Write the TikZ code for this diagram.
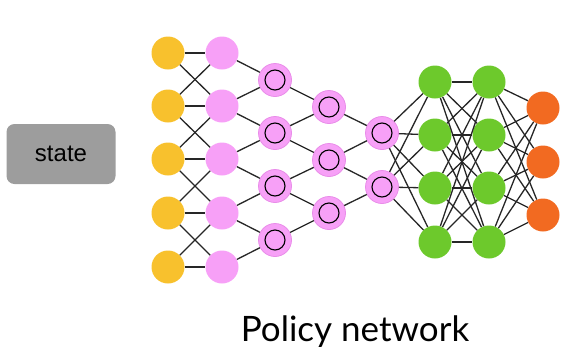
\documentclass[tikz,border=0pt]{standalone}
\usepackage{fontspec}
\setmainfont{Liberation Sans}
\newfontfamily\titlefont{Lato}
\definecolor{inyellow}{HTML}{F8C12D}
\definecolor{lightpink}{HTML}{F7A0F7}
\definecolor{ringpink}{HTML}{E98CE9}
\definecolor{hidgreen}{HTML}{6DC92C}
\definecolor{outorange}{HTML}{F26A21}
\definecolor{boxgray}{HTML}{9D9D9D}

\begin{document}
\begin{tikzpicture}[x=1pt, y=-1pt,
    neuron/.style={circle, minimum size=33pt, inner sep=0pt},
    convnode/.style={neuron, fill=lightpink, draw=ringpink, line width=0.8pt},
    link/.style={draw=black!85, line width=1.3pt}]
    \useasboundingbox (0,0) rectangle (562,357);
    \node[rectangle, rounded corners=8pt, fill=boxgray, minimum width=109pt, minimum height=60pt,
        font=\fontsize{24}{28}\selectfont] (state) at (61,154) {state};
    \foreach \y [count=\i] in {53,106,159,213,267} {
        \node[neuron, fill=inyellow] (a\i) at (168,\y) {};
        \node[neuron, fill=lightpink] (b\i) at (222,\y) {};
    }
    \foreach \y [count=\i] in {80,133,186,240}
        \node[convnode] (c\i) at (275,\y) {};
    \foreach \y [count=\i] in {107,160,213}
        \node[convnode] (d\i) at (329,\y) {};
    \foreach \y [count=\i] in {133,187}
        \node[convnode] (e\i) at (382,\y) {};
    \foreach \n in {c1,c2,c3,c4,d1,d2,d3,e1,e2}
        \draw[line width=1.1pt] (\n.center) circle (10);
    \foreach \y [count=\i] in {82,135,188,242} {
        \node[neuron, fill=hidgreen] (f\i) at (435,\y) {};
        \node[neuron, fill=hidgreen] (g\i) at (489,\y) {};
    }
    \foreach \y [count=\i] in {108,162,215}
        \node[neuron, fill=outorange] (h\i) at (543,\y) {};

    \foreach \i/\j in {1/1,1/2,2/1,2/2,2/3,3/2,3/3,3/4,4/3,4/4,4/5,5/4,5/5}
        \draw[link] (a\i) -- (b\j);
    \foreach \i/\j in {1/1,2/1,2/2,3/2,3/3,4/3,4/4,5/4}
        \draw[link] (b\i) -- (c\j);
    \foreach \i/\j in {1/1,2/1,2/2,3/2,3/3,4/3}
        \draw[link] (c\i) -- (d\j);
    \foreach \i/\j in {1/1,2/1,2/2,3/2}
        \draw[link] (d\i) -- (e\j);
    \foreach \i in {1,2}
        \foreach \j in {1,...,4}
            \draw[link] (e\i) -- (f\j);
    \foreach \i in {1,...,4}
        \foreach \j in {1,...,4}
            \draw[link] (f\i) -- (g\j);
    \foreach \i in {1,...,4}
        \foreach \j in {1,2,3}
            \draw[link] (g\i) -- (h\j);

    \node[font=\titlefont\fontsize{35}{40}\selectfont] (title) at (355,332) {Policy network};
\end{tikzpicture}
\end{document}
